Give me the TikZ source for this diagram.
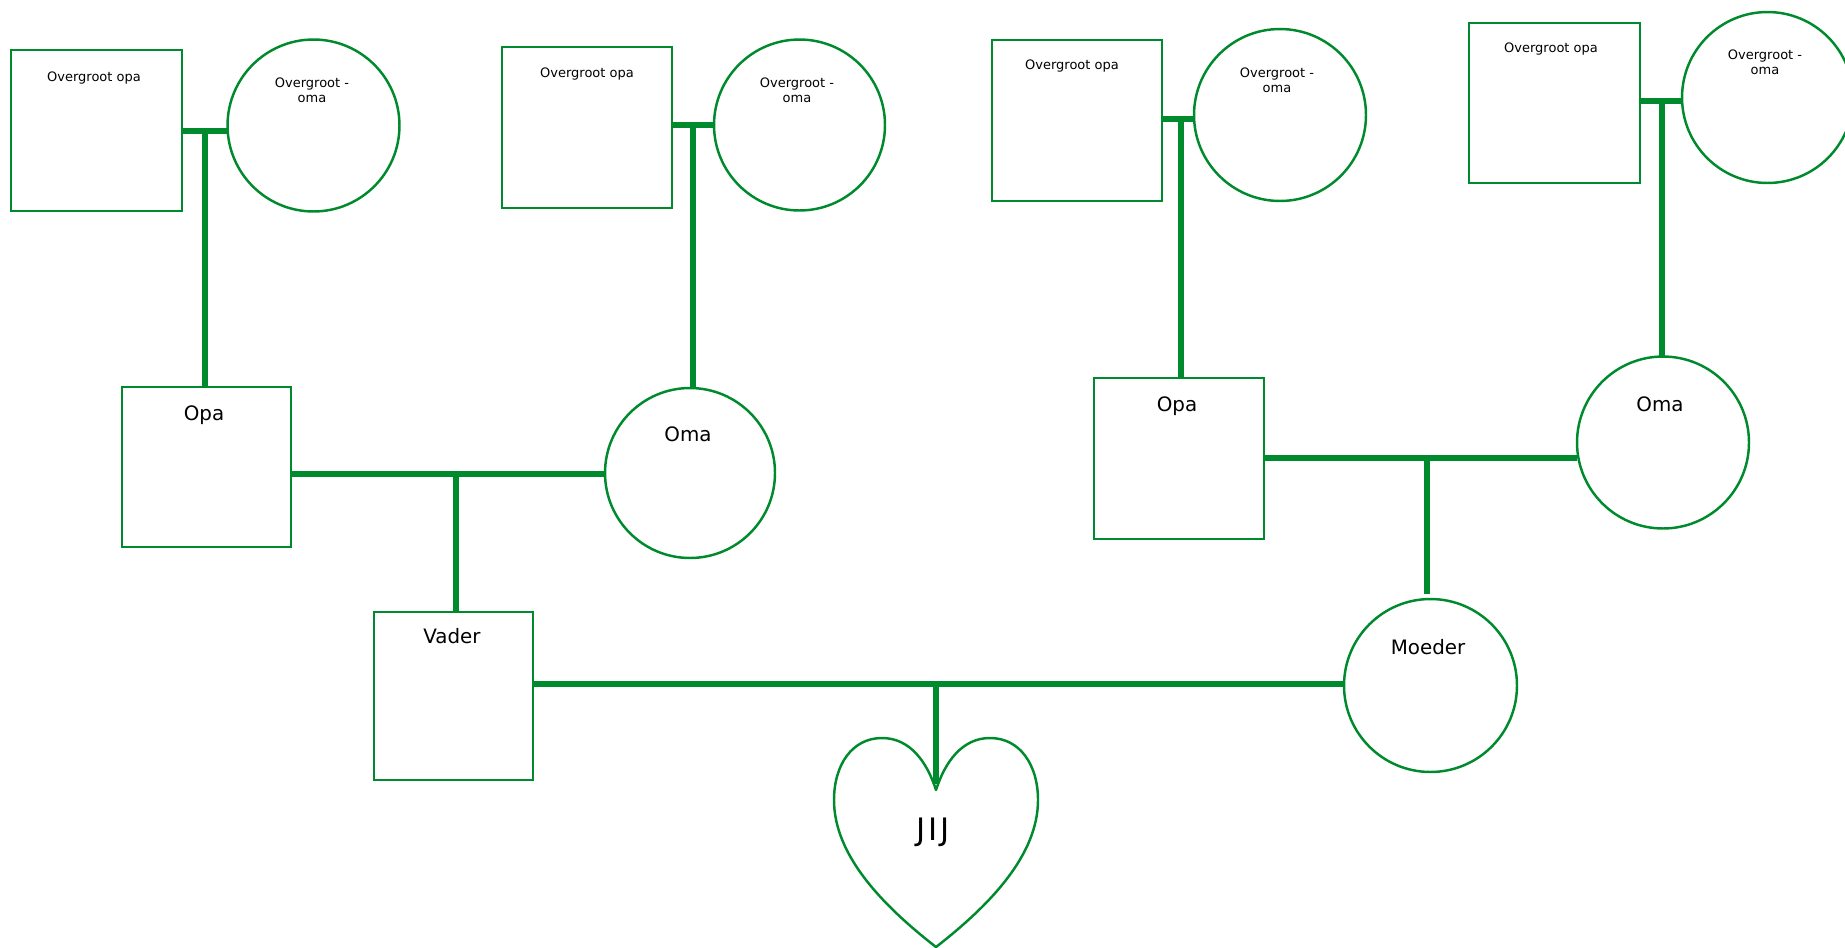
\documentclass[tikz,border=0pt]{standalone}
\usepackage{fontspec}
\setmainfont{DejaVu Sans}
\definecolor{famgreen}{RGB}{0,138,46}
\tikzset{
  sq/.style={draw=famgreen, line width=1.4pt, rectangle, inner sep=0pt, outer sep=0pt},
  circ/.style={draw=famgreen, line width=1.4pt, circle, inner sep=0pt, outer sep=0pt},
  conn/.style={draw=famgreen, line width=3.1pt},
  heartline/.style={draw=famgreen, line width=1.4pt, line join=round},
  smalltxt/.style={font=\fontsize{7.4pt}{8.6pt}\selectfont, align=center, inner sep=0pt},
  midtxt/.style={font=\fontsize{11.3pt}{13pt}\selectfont, inner sep=0pt},
  bigtxt/.style={font=\fontsize{17.6pt}{20pt}\selectfont, inner sep=0pt},
}
\begin{document}
\begin{tikzpicture}[x={(0.02cm,0)}, y={(0,-0.02cm)}]
\clip (0,0) rectangle (1845,947);
\fill[white] (0,0) rectangle (1845,947);

% great-grandparents
\node[sq, minimum width=3.42cm, minimum height=3.22cm] (gg1) at (96.5,130.5) {};
\node[circ, minimum size=3.44cm] (gm1) at (313.5,125.5) {};
\node[sq, minimum width=3.40cm, minimum height=3.22cm] (gg2) at (587,127.5) {};
\node[circ, minimum size=3.42cm] (gm2) at (799.5,125) {};
\node[sq, minimum width=3.40cm, minimum height=3.22cm] (gg3) at (1077,120.5) {};
\node[circ, minimum size=3.44cm] (gm3) at (1280,115) {};
\node[sq, minimum width=3.42cm, minimum height=3.20cm] (gg4) at (1554.5,103) {};
\node[circ, minimum size=3.42cm] (gm4) at (1767.5,97.5) {};

% grandparents
\node[sq, minimum width=3.38cm, minimum height=3.20cm] (opa1) at (206.5,467) {};
\node[circ, minimum size=3.40cm] (oma1) at (690,473) {};
\node[sq, minimum width=3.40cm, minimum height=3.22cm] (opa2) at (1179,458.5) {};
\node[circ, minimum size=3.44cm] (oma2) at (1663,442.5) {};

% parents
\node[sq, minimum width=3.18cm, minimum height=3.36cm] (vader) at (453.5,696) {};
\node[circ, minimum size=3.46cm] (moeder) at (1430.5,685.5) {};

% labels
\node[smalltxt] (lgg1) at (94,78) {Overgroot opa};
\node[smalltxt] (lgm1) at (312,90) {Overgroot -\\oma};
\node[smalltxt] (lgg2) at (587,74.5) {Overgroot opa};
\node[smalltxt] (lgm2) at (797,90) {Overgroot -\\oma};
\node[smalltxt] (lgg3) at (1072,66) {Overgroot opa};
\node[smalltxt] (lgm3) at (1277,80.5) {Overgroot -\\oma};
\node[smalltxt] (lgg4) at (1551,49) {Overgroot opa};
\node[smalltxt] (lgm4) at (1765,62) {Overgroot -\\oma};
\node[midtxt] (lopa1) at (204,415) {Opa};
\node[midtxt] (loma1) at (688,434) {Oma};
\node[midtxt] (lopa2) at (1177,406) {Opa};
\node[midtxt] (loma2) at (1660,404) {Oma};
\node[midtxt] (lvader) at (452,636) {Vader};
\node[midtxt] (lmoeder) at (1428,647) {Moeder};

% junctions
\coordinate (j1) at (205,131);
\coordinate (j2) at (693,125);
\coordinate (j3) at (1181,119);
\coordinate (j4) at (1662,101);
\coordinate (j5) at (456,474);
\coordinate (j6) at (1427,458);
\coordinate (m6) at (1427,594);
\coordinate (j7) at (936,684);
\coordinate (cuspTop) at (936,784);
\coordinate (cusp) at (936,790);

% connectors
\draw[conn] (gg1.east |- j1) -- (gm1.west |- j1);
\draw[conn] (j1) -- (j1 |- opa1.north);
\draw[conn] (gg2.east |- j2) -- (gm2.west |- j2);
\draw[conn] (j2) -- (j2 |- oma1.north);
\draw[conn] (gg3.east |- j3) -- (gm3.west |- j3);
\draw[conn] (j3) -- (j3 |- opa2.north);
\draw[conn] (gg4.east |- j4) -- (gm4.west |- j4);
\draw[conn] (j4) -- (j4 |- oma2.north);
\draw[conn] (opa1.east |- j5) -- (oma1.west |- j5);
\draw[conn] (j5) -- (j5 |- vader.north);
\draw[conn] (opa2.east |- j6) -- (oma2.west |- j6);
\draw[conn] (j6) -- (m6);
\draw[conn] (vader.east |- j7) -- (moeder.west |- j7);
\draw[conn] (j7) -- (cuspTop);

% heart
\draw[heartline] (cusp) .. controls (945,762) and (962,738) .. (990,738)
  .. controls (1020,738) and (1038,765) .. (1038,800)
  .. controls (1038,855) and (990,905) .. (936,947)
  .. controls (882,905) and (834,855) .. (834,800)
  .. controls (834,765) and (852,738) .. (882,738)
  .. controls (910,738) and (927,762) .. (cusp) -- cycle;
\node[bigtxt] (jij) at (933,832) {J\kern1.5pt I\kern1.5pt J};
\end{tikzpicture}
\end{document}
